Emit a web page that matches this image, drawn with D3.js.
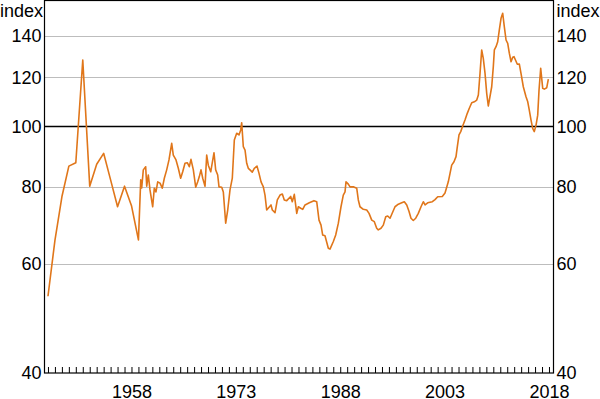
<!DOCTYPE html>
<html lang="en">
    <head>
        <meta charset="utf-8">
        <title>Index</title>
        <script type="text/javascript" src="https://cdn.jsdelivr.net/npm/d3@7"></script>
        <style>
            body { margin: 0; background: #fff; }
            svg { display: block; }
            text { font-family: Arial, "Liberation Sans", sans-serif; font-size: 18px; fill: #000; }
        </style>
    </head>

    <body>
        <script type="text/javascript">

            // annual observations, 1946 to 1959
            var annual = [
                [1946, 53.2], [1947, 65.5], [1948, 77.0], [1949, 86.3], [1950, 87.4],
                [1951, 128.0], [1952, 80.1], [1953, 86.9], [1954, 90.5], [1955, 82.0],
                [1956, 74.2], [1957, 80.1], [1958, 74.5], [1959, 65.6]
            ];

            var period1959 = [
                [1959.33, 82.0], [1959.47, 79.6], [1959.70, 85.1], [1960.04, 86.1], [1960.19, 80.1],
                [1960.42, 83.5], [1960.66, 79.0], [1961.05, 74.2], [1961.28, 79.5], [1961.52, 78.4],
                [1961.77, 81.4], [1962.10, 81.0], [1962.43, 79.5], [1962.72, 82.5], [1963.06, 85.1],
                [1963.39, 88.3], [1963.78, 93.9], [1964.01, 89.9], [1964.40, 88.3], [1964.73, 85.6],
                [1965.07, 82.5], [1965.36, 84.5], [1965.69, 87.2], [1966.02, 87.4], [1966.31, 86.1],
                [1966.55, 88.5], [1966.89, 85.1], [1967.23, 79.8], [1967.52, 81.4], [1967.75, 83.0],
                [1967.99, 85.1], [1968.24, 82.5], [1968.57, 80.1], [1968.81, 89.9], [1969.04, 86.6],
                [1969.39, 84.5], [1969.86, 90.7], [1970.10, 85.1], [1970.39, 83.5], [1970.58, 79.9],
                [1970.97, 79.8], [1971.20, 78.4], [1971.54, 69.8], [1971.83, 73.3], [1972.16, 79.0],
                [1972.49, 82.5], [1972.78, 95.1]
            ];

            var period1973 = [
                [1973.12, 97.5], [1973.45, 96.9], [1973.70, 98.7], [1973.84, 101.4], [1974.07, 92.8],
                [1974.32, 91.6], [1974.56, 87.2], [1974.79, 85.6], [1975.03, 85.1], [1975.36, 84.4],
                [1975.65, 85.6], [1976.04, 86.3], [1976.33, 84.0], [1976.62, 81.4], [1976.95, 79.9],
                [1977.19, 77.5], [1977.43, 73.3], [1978.05, 74.7], [1978.24, 73.3], [1978.63, 72.6],
                [1978.96, 76.1], [1979.35, 77.5], [1979.68, 77.8], [1979.96, 76.1], [1980.31, 75.9],
                [1980.88, 77.1], [1981.11, 75.6], [1981.40, 77.7], [1981.75, 72.4], [1981.98, 74.2],
                [1982.32, 73.8], [1982.61, 73.5], [1982.94, 74.7], [1983.56, 75.3], [1984.23, 75.9],
                [1984.62, 75.6], [1984.95, 70.6], [1985.24, 69.3], [1985.48, 66.8], [1985.81, 66.6],
                [1986.29, 63.6], [1986.53, 63.4], [1987.01, 65.2], [1987.35, 66.8], [1987.73, 69.8]
            ];

            var period1988 = [
                [1988.11, 74.2], [1988.44, 77.5], [1988.69, 78.4], [1988.83, 81.4], [1989.16, 80.7],
                [1989.41, 79.9], [1989.88, 79.9], [1990.37, 79.5], [1990.60, 76.1], [1990.84, 74.2],
                [1991.32, 73.5], [1991.81, 73.3], [1992.14, 72.4], [1992.53, 70.6], [1992.90, 70.2],
                [1993.24, 68.5], [1993.47, 68.1], [1993.86, 68.5], [1994.19, 69.3], [1994.54, 71.5],
                [1994.82, 71.7], [1995.16, 71.1], [1995.87, 74.2], [1996.35, 74.9], [1996.84, 75.3],
                [1997.21, 75.6], [1997.56, 74.7], [1997.89, 72.9], [1998.17, 71.1], [1998.50, 70.5],
                [1998.85, 71.1], [1999.22, 72.4], [1999.61, 74.2], [1999.94, 75.6], [2000.19, 74.7],
                [2000.57, 75.3], [2001.24, 75.6], [2001.62, 76.2], [2002.01, 77.0], [2002.67, 77.1]
            ];

            var period2003 = [
                [2003.06, 78.1], [2003.53, 81.4], [2003.78, 84.0], [2004.02, 86.6], [2004.35, 87.7],
                [2004.64, 89.4], [2004.83, 92.8], [2005.07, 96.9], [2005.32, 98.1], [2005.60, 100.2],
                [2005.93, 102.4], [2006.26, 105.0], [2006.55, 107.0], [2006.90, 109.2], [2007.27, 109.6],
                [2007.62, 110.3], [2007.85, 112.4], [2008.09, 121.8], [2008.33, 132.9], [2008.56, 128.8],
                [2008.81, 121.8], [2009.05, 113.1], [2009.28, 107.9], [2009.77, 115.9], [2010.00, 124.9],
                [2010.15, 132.9], [2010.39, 134.5], [2010.63, 137.0], [2010.86, 143.1], [2011.11, 149.5],
                [2011.35, 152.3], [2011.58, 144.9], [2011.83, 137.9], [2012.07, 136.2], [2012.30, 131.3],
                [2012.55, 127.2], [2012.79, 129.3], [2012.98, 129.6], [2013.45, 126.0], [2013.74, 126.1],
                [2013.98, 121.8], [2014.31, 115.9], [2014.70, 111.7], [2014.95, 109.6], [2015.17, 106.3],
                [2015.42, 102.4], [2015.66, 99.3], [2015.89, 98.1], [2016.14, 100.5], [2016.38, 104.3],
                [2016.57, 114.5], [2016.81, 124.1], [2017.10, 115.2], [2017.33, 114.9], [2017.68, 115.5],
                [2017.91, 119.2]
            ];

            // axis ticks and labels
            var y_ticks = [40, 60, 80, 100, 120, 140];
            var year_labels = [1958, 1973, 1988, 2003, 2018];
            var year_ticks = d3.range(1946, 2019);

            var series = annual.concat(period1959, period1973, period1988, period2003);

            // chart size and plot area
            var width = 600, height = 399;
            var plot_left = 44.5, plot_right = 553.5, plot_top = 0.5, plot_bottom = 373;

            var svg = d3.select("body")
                .append("svg")
                .attr("width", width)
                .attr("height", height);

            var x = d3.scaleLinear()
                .domain([1945.5, 2018.65])
                .range([plot_left, plot_right]);

            var y = d3.scaleLog()
                .domain([40, 160])
                .range([plot_bottom, 0]);

            // horizontal grid lines
            svg.append("g")
                .selectAll("line")
                .data(y_ticks.filter(function(d) { return d > 40; }))
                .enter()
                .append("line")
                .attr("x1", plot_left)
                .attr("x2", plot_right)
                .attr("y1", function(d) { return Math.round(y(d)) + 0.5; })
                .attr("y2", function(d) { return Math.round(y(d)) + 0.5; })
                .attr("stroke", function(d) { return d == 100 ? "#000" : "#bdbdbd"; })
                .attr("stroke-width", function(d) { return d == 100 ? 1.5 : 1.2; });

            // the index line
            var line = d3.line()
                .x(function(d) { return x(d[0]); })
                .y(function(d) { return y(d[1]); });

            svg.append("path")
                .datum(series)
                .attr("fill", "none")
                .attr("stroke", "#e0761a")
                .attr("stroke-width", 1.6)
                .attr("stroke-linejoin", "round")
                .attr("d", line);

            // frame round the plot
            svg.append("rect")
                .attr("x", plot_left)
                .attr("y", plot_top)
                .attr("width", plot_right - plot_left)
                .attr("height", plot_bottom - plot_top)
                .attr("fill", "none")
                .attr("stroke", "#000")
                .attr("stroke-width", 1.2);

            // bottom axis: year ticks pointing up, labels every 15 years
            var x_axis = d3.axisBottom(x)
                .tickValues(year_ticks)
                .tickSize(-6)
                .tickPadding(12)
                .tickFormat(function(d) { return year_labels.indexOf(d) >= 0 ? d : ""; });

            var gx = svg.append("g")
                .attr("transform", "translate(0," + plot_bottom + ")")
                .call(x_axis);
            gx.select(".domain").remove();
            gx.selectAll("line").attr("stroke", "#000");
            gx.selectAll("text").attr("font-size", null).attr("font-family", null);

            // left and right value axes
            var gl = svg.append("g")
                .attr("transform", "translate(" + plot_left + ",0)")
                .call(d3.axisLeft(y).tickValues(y_ticks).tickSize(0).tickPadding(3).tickFormat(d3.format("d")));
            var gr = svg.append("g")
                .attr("transform", "translate(" + plot_right + ",0)")
                .call(d3.axisRight(y).tickValues(y_ticks).tickSize(0).tickPadding(3).tickFormat(d3.format("d")));
            [gl, gr].forEach(function(g) {
                g.select(".domain").remove();
                g.selectAll("text").attr("font-size", null).attr("font-family", null);
            });

            // units
            svg.append("text").attr("x", plot_left - 1.5).attr("y", 17).attr("text-anchor", "end").text("index");
            svg.append("text").attr("x", plot_right + 3).attr("y", 17).text("index");
        </script>
    </body>
</html>
